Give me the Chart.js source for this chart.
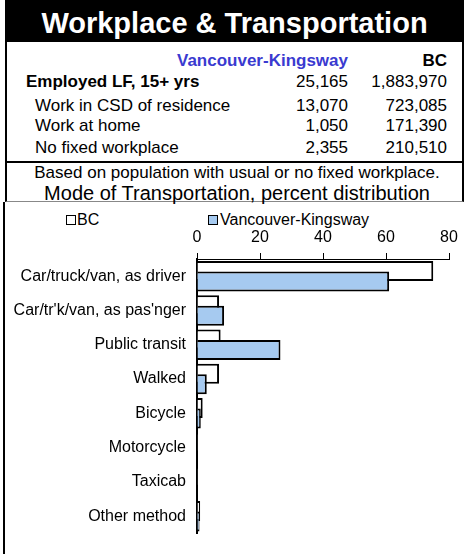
<!DOCTYPE html>
<html>
<head>
<meta charset="utf-8">
<script src="https://cdn.jsdelivr.net/npm/chart.js@4.4.1/dist/chart.umd.min.js"></script>
<style>
  body { margin: 0; width: 464px; height: 554px; position: relative; overflow: hidden; background: #fff;
         font-family: Arial, "Liberation Sans", sans-serif; }
  .abs { position: absolute; white-space: nowrap; }
  #frame { position: absolute; left: 5px; top: 0; width: 455px; height: 161px;
           border-left: 2px solid #000; border-right: 2px solid #000; border-bottom: 2px solid #000; }
  #header { position: absolute; left: 5px; top: 0; width: 459px; height: 42px; background: #000; }
  #subbox { position: absolute; left: 5px; top: 163px; width: 455px; height: 38px;
            border-left: 2px solid #000; border-right: 2px solid #000; border-bottom: 1px solid #888; }
  #chartbox { position: absolute; left: 3px; top: 202px; width: 461px; height: 352px; border-left: 2px solid #000; }
  .t17 { font-size: 17px; line-height: 20px; }
  .b { font-weight: bold; }
  .r { text-align: right; }
  .leg { font-size: 16px; line-height: 18px; }
  .box { position: absolute; width: 8px; height: 8px; border: 1px solid #000; }
  #wrap { position: absolute; left: 6px; top: 203px; width: 458px; height: 351px; }
</style>
</head>
<body>
<div id="frame"></div>
<div id="header"></div>
<div class="abs b" style="left:5px;width:459px;top:2px;font-size:29px;line-height:42px;color:#fff;text-align:center;">Workplace &amp; Transportation</div>

<div id="table"></div>

<div id="subbox"></div>
<div class="abs t17" style="left:10px;width:454px;top:163px;text-align:center;">Based on population with usual or no fixed workplace.</div>
<div class="abs" style="left:10px;width:454px;top:182px;font-size:20px;line-height:23px;text-align:center;">Mode of Transportation, percent distribution</div>

<div id="chartbox"></div>
<div class="box" style="left:66px;top:215px;background:#fff;"></div>
<div class="abs leg" style="left:77px;top:211px;">BC</div>
<div class="box" style="left:208px;top:215px;background:#a6caf0;"></div>
<div class="abs leg" style="left:220px;top:211px;">Vancouver-Kingsway</div>

<div id="wrap"><canvas id="modeChart"></canvas></div>

<script>
// table at the top
const tableRows = ['Employed LF, 15+ yrs', 'Work in CSD of residence', 'Work at home', 'No fixed workplace'];
const vkCounts = ['25,165', '13,070', '1,050', '2,355'];
const bcCounts = ['1,883,970', '723,085', '171,390', '210,510'];
const rowCenters = [82, 106, 126, 148];

// mode of transportation, percent
const modes = ['Car/truck/van, as driver', "Car/tr'k/van, as pas'nger", 'Public transit', 'Walked',
               'Bicycle', 'Motorcycle', 'Taxicab', 'Other method'];
const bcPct = [75, 7, 7.5, 7, 1.8, 0.3, 0.3, 1.0];
const vkPct = [61, 8.6, 26.5, 3.1, 1.2, 0.2, 0.2, 0.8];
const xTicks = [0, 20, 40, 60, 80];

let html = '';
html += '<div class="abs t17 b r" style="right:116px;top:51px;color:#3a3ad0;">Vancouver-Kingsway</div>';
html += '<div class="abs t17 b r" style="right:17px;top:51px;">BC</div>';
tableRows.forEach((name, i) => {
  const top = rowCenters[i] - 10;
  const left = i === 0 ? 26 : 35;
  html += `<div class="abs t17 ${i === 0 ? 'b' : ''}" style="left:${left}px;top:${top}px;">${name}</div>`;
  html += `<div class="abs t17 r" style="right:116px;top:${top}px;">${vkCounts[i]}</div>`;
  html += `<div class="abs t17 r" style="right:17px;top:${top}px;">${bcCounts[i]}</div>`;
});
document.getElementById('table').innerHTML = html;

// draw VK bars after BC so they sit on top of the overlap
const vkOnTop = {
  id: 'vkOnTop',
  beforeDatasetDraw(chart, args) {
    if (args.index === 1) return false;
  },
  afterDatasetsDraw(chart) {
    chart.getDatasetMeta(1).controller.draw();
  }
};

const ctx = document.getElementById('modeChart').getContext('2d');
new Chart(ctx, {
  type: 'bar',
  data: {
    labels: modes,
    datasets: [
      { label: 'BC', data: bcPct, backgroundColor: '#ffffff', borderColor: '#000', borderWidth: 2 },
      { label: 'Vancouver-Kingsway', data: vkPct, backgroundColor: '#a6caf0', borderColor: '#000', borderWidth: 2 }
    ]
  },
  options: {
    indexAxis: 'y',
    responsive: true,
    maintainAspectRatio: false,
    animation: false,
    categoryPercentage: 0.611,
    barPercentage: 1.91,
    layout: { padding: { top: 0, left: 0, right: 15, bottom: 7 } },
    plugins: { legend: { display: false }, tooltip: { enabled: false } },
    scales: {
      x: {
        position: 'top',
        min: 0,
        max: 80,
        afterBuildTicks: (scale) => { scale.ticks = xTicks.map(v => ({ value: v })); },
        afterFit: (scale) => { scale.height = 56; },
        grid: { display: true, drawOnChartArea: false, drawTicks: true, tickLength: 6, color: '#000' },
        border: { display: true, color: '#000', width: 1 },
        ticks: { color: '#000', padding: 6, maxRotation: 0, font: { family: 'Arial, "Liberation Sans"', size: 16 } }
      },
      y: {
        afterFit: (scale) => { scale.width = 191; },
        grid: { display: false, drawTicks: false },
        border: { display: true, color: '#000', width: 2 },
        ticks: { color: '#000', padding: 11, font: { family: 'Arial, "Liberation Sans"', size: 16 } }
      }
    }
  },
  plugins: [vkOnTop]
});
</script>
</body>
</html>
